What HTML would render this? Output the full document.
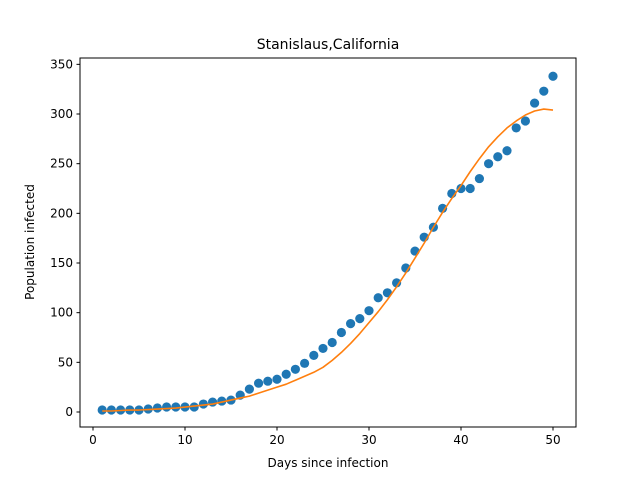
<!DOCTYPE html>
<html><head><meta charset="utf-8"><style>body{margin:0;background:#fff}svg{display:block;font-family:"DejaVu Sans","Liberation Sans",sans-serif}</style></head>
<body>
<svg id="chart" width="640" height="480">
<rect width="640" height="480" fill="#fff"/>
<text x="328" y="49" text-anchor="middle" font-size="14">Stanislaus,California</text>
<g id="marks"></g>
<rect x="80" y="58" width="496" height="369" fill="none" stroke="#000" stroke-width="1"/>
<g id="axes" font-size="12"></g>
<text x="328" y="467" text-anchor="middle" font-size="12">Days since infection</text>
<text transform="translate(34,242) rotate(-90)" text-anchor="middle" font-size="12">Population infected</text>
</svg>
<script>
const days = Array.from({length:50},(_,i)=>i+1);
const infected = [2,2,2,2,2,3,4,5,5,5,5,8,10,11,12,17,23,29,31,33,38,43,49,57,64,70,80,89,94,102,115,120,130,145,162,176,186,205,220,225,225,235,250,257,263,286,293,311,323,338];
const fitted = [1,1,1.5,2,2,2.5,3,3.5,4,5,6,7,8,10,12,14,16,19,22,25,28,32,36,40,45,52,60,69,79,90,101,113,126,140,155,170,186,201,215,228,242,255,267,277,286,293,299,303,305,304];
const xTicks = [0,10,20,30,40,50];
const yTicks = [0,50,100,150,200,250,300,350];
const X = v => 93 + v*9.2;
const Y = v => 412 - v*0.9933;
const NS="http://www.w3.org/2000/svg";
const marks=document.getElementById('marks'), axes=document.getElementById('axes');
function mk(t,a,p){const e=document.createElementNS(NS,t);for(const k in a)e.setAttribute(k,a[k]);p.appendChild(e);return e;}
days.forEach((d,i)=>{
 const c=mk('circle',{cx:X(d),cy:Y(infected[i]),r:4.6,fill:'#1f77b4'},marks);
 
 
});
const line=mk('polyline',{points:days.map((d,i)=>X(d)+','+Y(fitted[i])).join(' '),fill:'none',stroke:'#ff7f0e','stroke-width':1.6,'stroke-linejoin':'round'},marks);


xTicks.forEach(t=>{
 const x=X(t);
 mk('line',{x1:x,x2:x,y1:427,y2:430.5,stroke:'#000'},axes);
 const tx=mk('text',{x:x,y:444,'text-anchor':'middle'},axes);tx.textContent=t;
 
 
});
yTicks.forEach(t=>{
 const y=Y(t);
 mk('line',{x1:76.5,x2:80,y1:y,y2:y,stroke:'#000'},axes);
 const tx=mk('text',{x:73,y:y+4,'text-anchor':'end'},axes);tx.textContent=t;
 
 
});
</script>
</body></html>
